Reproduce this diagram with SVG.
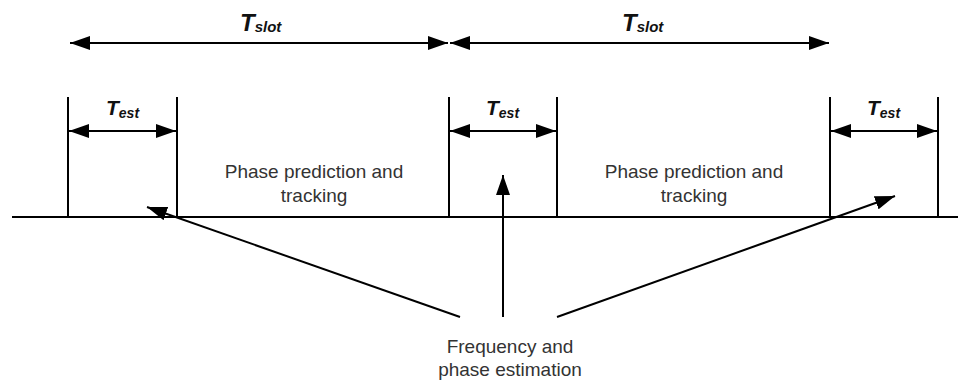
<svg xmlns="http://www.w3.org/2000/svg" width="958" height="381" viewBox="0 0 958 381">
<style>
.ln{stroke:#000;stroke-width:2;fill:none}
.arr{stroke:#000;stroke-width:2;fill:none;marker-end:url(#ah)}
.dbl{stroke:#000;stroke-width:2;fill:none;marker-start:url(#ah);marker-end:url(#ah)}
.lbl{font-family:"Liberation Sans",Arial,sans-serif;font-size:19px;fill:#333;text-anchor:middle}
.sym{font-family:"Liberation Sans",Arial,sans-serif;font-weight:bold;font-style:italic;fill:#111}
</style>
<defs>
<marker id="ah" markerUnits="userSpaceOnUse" markerWidth="22" markerHeight="14" refX="20" refY="7" orient="auto-start-reverse">
<path d="M0,0 L20,7 L0,14 Z" fill="#000"/>
</marker>
</defs>
<g id="connectors">
<line class="ln" x1="12" y1="217" x2="958" y2="217"/>
<line class="ln" x1="68" y1="97" x2="68" y2="217"/>
<line class="ln" x1="177" y1="97" x2="177" y2="217"/>
<line class="ln" x1="449" y1="97" x2="449" y2="217"/>
<line class="ln" x1="557" y1="97" x2="557" y2="217"/>
<line class="ln" x1="830" y1="97" x2="830" y2="217"/>
<line class="ln" x1="938" y1="97" x2="938" y2="217"/>
<line class="dbl" x1="70" y1="43" x2="448" y2="43"/>
<line class="dbl" x1="450" y1="43" x2="829" y2="43"/>
<line class="dbl" x1="69" y1="131" x2="176" y2="131"/>
<line class="dbl" x1="450" y1="131" x2="556" y2="131"/>
<line class="dbl" x1="831" y1="131" x2="937" y2="131"/>
<line class="arr" x1="460" y1="317" x2="147" y2="207"/>
<line class="arr" x1="503" y1="317" x2="503" y2="175"/>
<line class="arr" x1="557" y1="317" x2="895" y2="196"/>
</g>
<g id="tslot1"><text class="sym" x="240" y="31" font-size="24">T<tspan font-size="15" dy="1">slot</tspan></text></g>
<g id="tslot2"><text class="sym" x="622" y="31" font-size="24">T<tspan font-size="15" dy="1">slot</tspan></text></g>
<g id="test1"><text class="sym" x="106" y="115" font-size="21">T<tspan font-size="14" dy="3">est</tspan></text></g>
<g id="test2"><text class="sym" x="486" y="115" font-size="21">T<tspan font-size="14" dy="3">est</tspan></text></g>
<g id="test3"><text class="sym" x="867" y="115" font-size="21">T<tspan font-size="14" dy="3">est</tspan></text></g>
<g id="phase1"><text class="lbl" x="314" y="178">Phase prediction and</text><text class="lbl" x="314" y="202">tracking</text></g>
<g id="phase2"><text class="lbl" x="694" y="178">Phase prediction and</text><text class="lbl" x="694" y="202">tracking</text></g>
<g id="freq"><text class="lbl" x="510" y="353">Frequency and</text><text class="lbl" x="510" y="376">phase estimation</text></g>
</svg>
